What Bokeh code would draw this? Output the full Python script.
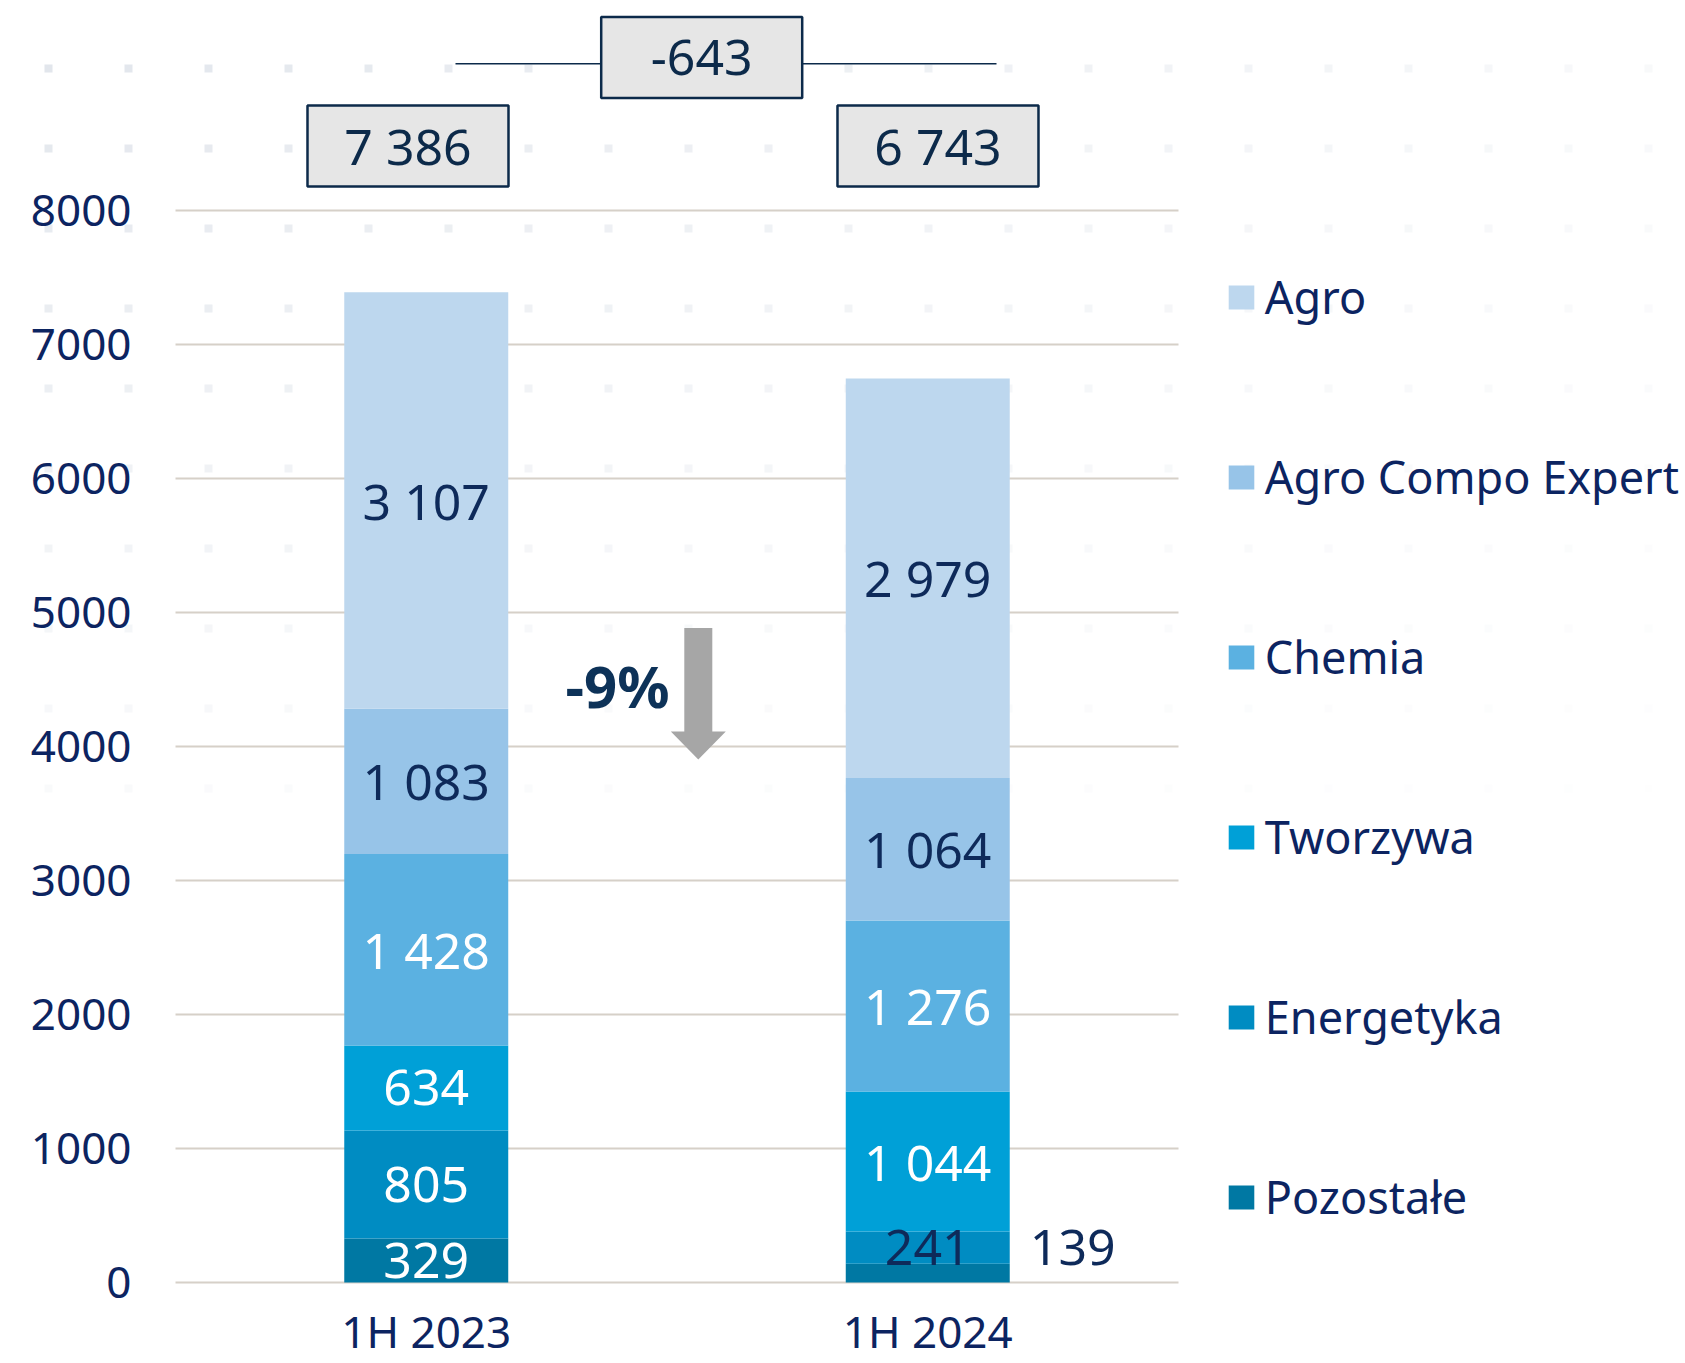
import numpy as np
from bokeh.plotting import figure
from bokeh.models import Range1d, FixedTicker, Legend, LegendItem, ColumnDataSource
from bokeh.core.properties import value
from bokeh.embed import file_html
from bokeh.resources import INLINE

# ---------------- data ----------------
periods = ["1H 2023", "1H 2024"]
segment_names = ["Pozostałe", "Energetyka", "Tworzywa", "Chemia", "Agro Compo Expert", "Agro"]
pozostale = [329, 139]
energetyka = [805, 241]
tworzywa = [634, 1044]
chemia = [1428, 1276]
agro_compo_expert = [1083, 1064]
agro = [3107, 2979]
totals = [7386, 6743]
y_ticks = [0, 1000, 2000, 3000, 4000, 5000, 6000, 7000, 8000]

series = [pozostale, energetyka, tworzywa, chemia, agro_compo_expert, agro]
keys = ["poz", "ene", "two", "che", "ace", "agr"]
colors = ["#0078A3", "#008CC2", "#00A0D7", "#5BB1E1", "#97C4E8", "#BDD7EE"]

NAVY = "#0C2461"
NAVY_LBL = "#0E2A5A"
NAVY_BOX = "#0C2A4A"
FONT = "Noto Sans"

# ---------------- layout ----------------
W, H = 1685, 1363
PX_LEFT = 175.0        # canvas x of x = 0
UNIT_PX = 501.5        # px per x unit (one category)
Y0_PX = 1282.0         # canvas y of value 0
PX_PER_VAL = 0.13406   # px per value unit
BAR_W = 0.327

x_range = Range1d(-PX_LEFT / UNIT_PX, (W - PX_LEFT) / UNIT_PX)
y_range = Range1d(-(H - Y0_PX) / PX_PER_VAL, Y0_PX / PX_PER_VAL)

def dx(px):
    return (px - PX_LEFT) / UNIT_PX

def dy(py):
    return (Y0_PX - py) / PX_PER_VAL

p = figure(width=W, height=H, x_range=x_range, y_range=y_range,
           output_backend="svg", toolbar_location=None, min_border=0,
           outline_line_color=None, background_fill_color="white",
           border_fill_color="white")

# faint dotted background pattern (decoration)
dot_x, dot_y, dot_a = [], [], []
for r in range(10):
    for c in range(21):
        dot_x.append(dx(48 + 80 * c))
        dot_y.append(dy(68 + 80 * r))
        dot_a.append(0.85 * (1 - 0.75 * c / 20) * (1 - 0.8 * r / 9))
p.scatter(dot_x, dot_y, marker="square", size=8, color="#DDE2E9",
          alpha=dot_a, line_color=None, level="image")

# ---------------- bars ----------------
xpos = [i + 0.5 for i in range(len(periods))]
data = dict(x=xpos)
for k, s in zip(keys, series):
    data[k] = s
src = ColumnDataSource(data)
rends = p.vbar_stack(keys, x="x", width=BAR_W, color=colors, line_color=None, source=src)

# ---------------- segment labels ----------------
navy_overrides = {(1, 1)}
lx, ly, lt, lc, ox, oy, ot = [], [], [], [], [], [], []
for i, xp in enumerate(xpos):
    bottom = 0
    mids = []
    for j, s in enumerate(series):
        mids.append(bottom + s[i] / 2)
        bottom += s[i]
    for j, s in enumerate(series):
        txt = f"{s[i]:,}".replace(",", " ")
        if s[i] < 200:
            ox.append(xp + BAR_W / 2 + 0.04)
            oy.append(mids[j + 1])
            ot.append(txt)
        else:
            lx.append(xp)
            ly.append(mids[j])
            lt.append(txt)
            if j >= 4 or (i, j) in navy_overrides:
                lc.append(NAVY_LBL)
            else:
                lc.append("white")

p.text(x=lx, y=ly, text=lt, text_color=lc, text_font=value(FONT),
       text_font_size="50px", text_align="center", text_baseline="middle")
p.text(x=ox, y=oy, text=ot, text_color=NAVY_LBL, text_font=value(FONT),
       text_font_size="50px", text_align="left", text_baseline="middle")

# ---------------- total boxes ----------------
box_offsets = [-0.0364, 0.0204]
BOX_W = 201 / UNIT_PX
BOX_H = 81 / PX_PER_VAL
box_y = dy(145.5)
bx = [xp + o for xp, o in zip(xpos, box_offsets)]
tot_txt = [f"{t:,}".replace(",", " ") for t in totals]

diff = totals[1] - totals[0]
pct = round((totals[1] / totals[0] - 1) * 100)
diff_x = dx(701.2)
diff_y = dy(57)
line_y = dy(63.3)
p.segment(x0=[dx(455)], y0=[line_y], x1=[dx(996)], y1=[line_y],
          line_color=NAVY_BOX, line_width=1.6)

p.rect(x=bx + [diff_x], y=[box_y, box_y, diff_y], width=BOX_W, height=BOX_H,
       fill_color="#E6E6E6", line_color=NAVY_BOX, line_width=2.5)
p.text(x=bx + [diff_x], y=[box_y, box_y, diff_y],
       text=tot_txt + [f"{diff:,}".replace(",", " ")],
       text_color=NAVY_BOX, text_font=value(FONT), text_font_size="50px",
       text_align="center", text_baseline="middle")

# ---------------- arrow and percent ----------------
ax = dx(697.8)
shaft_hw = 14 / UNIT_PX
head_hw = 27.5 / UNIT_PX
y_top, y_head, y_tip = dy(627.5), dy(731), dy(759)
p.patch(x=[ax - shaft_hw, ax + shaft_hw, ax + shaft_hw, ax + head_hw, ax, ax - head_hw, ax - shaft_hw],
        y=[y_top, y_top, y_head, y_head, y_tip, y_head, y_head],
        fill_color="#A6A6A6", line_color=None)
p.text(x=[dx(669)], y=[dy(685)], text=[f"{pct}%"], text_color="#0D3258",
       text_font=value(FONT), text_font_style="bold", text_font_size="58px",
       text_align="right", text_baseline="middle")

# ---------------- axes and grid ----------------
yax = p.yaxis[0]
yax.fixed_location = 0
yax.ticker = FixedTicker(ticks=y_ticks)
yax.axis_line_color = None
yax.major_tick_in = 0
yax.major_tick_out = 0
yax.minor_tick_in = 0
yax.minor_tick_out = 0
yax.major_label_standoff = 44
yax.major_label_text_font = FONT
yax.major_label_text_font_size = "44px"
yax.major_label_text_color = NAVY

xax = p.xaxis[0]
xax.fixed_location = 0
xax.ticker = FixedTicker(ticks=xpos)
xax.major_label_overrides = {xp: lab for xp, lab in zip(xpos, periods)}
xax.axis_line_color = None
xax.major_tick_in = 0
xax.major_tick_out = 0
xax.minor_tick_in = 0
xax.minor_tick_out = 0
xax.major_label_standoff = 18
xax.major_label_text_font = FONT
xax.major_label_text_font_size = "44px"
xax.major_label_text_color = NAVY

p.xgrid.visible = False
p.ygrid.grid_line_color = "#D6D0C8"
p.ygrid.grid_line_width = 2
p.ygrid.cross_bounds = (0, len(periods))

# ---------------- legend ----------------
items = [LegendItem(label=n, renderers=[r]) for n, r in zip(segment_names, rends)][::-1]
LBL_H, SPACING = 64, 116
GW, GH = 32, 30
leg_h = len(items) * LBL_H + (len(items) - 1) * SPACING
leg_top = 296.6 - LBL_H / 2
legend = Legend(items=items, location=(1228 - 0.1 * GW, H - (leg_top + leg_h)),
                orientation="vertical", padding=0, margin=0, spacing=SPACING,
                label_height=LBL_H, glyph_width=GW, glyph_height=GH, label_standoff=8,
                label_text_font=FONT, label_text_font_size="45px",
                label_text_color=NAVY, border_line_color=None,
                background_fill_alpha=0)
p.add_layout(legend)

open("out.html", "w").write(file_html(p, INLINE))
